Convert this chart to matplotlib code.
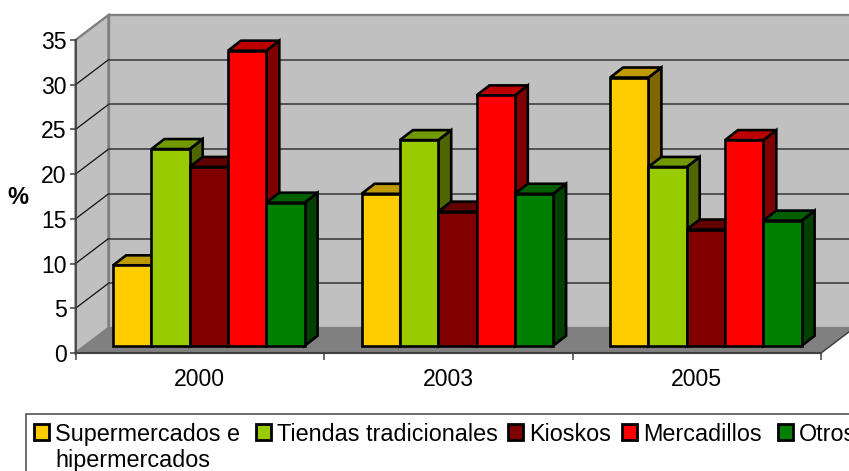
import matplotlib
matplotlib.use("Agg")
import numpy as np
import matplotlib.pyplot as plt
from matplotlib.patches import Polygon, Rectangle

plt.rcParams['font.family'] = ['Liberation Sans', 'DejaVu Sans']

# data
years = ["2000", "2003", "2005"]
names = ["Supermercados e\nhipermercados", "Tiendas tradicionales", "Kioskos", "Mercadillos", "Otros"]
supermercados = [9, 17, 30]
tiendas = [22, 23, 20]
kioskos = [20, 15, 13]
mercadillos = [33, 28, 23]
otros = [16, 17, 14]
series = [supermercados, tiendas, kioskos, mercadillos, otros]

# front, top, side colours per series
front = ["#FFCC00", "#99CC00", "#800000", "#FF0000", "#008000"]
top = ["#BF9900", "#739900", "#600000", "#BF0000", "#006000"]
side = ["#806600", "#4D6600", "#400000", "#800000", "#004000"]

W, H = 849, 471
fig = plt.figure(figsize=(W / 100, H / 100), dpi=100)

# axes = front plane of the 3D box
x0, x1, y0, y1 = 75.5, 821, 353, 40
ax = fig.add_axes([x0 / W, 1 - y0 / H, (x1 - x0) / W, (y0 - y1) / H])
ax.set_xlim(0, 3)
ax.set_ylim(0, 35)
ax.patch.set_visible(False)
for s in ax.spines.values():
    s.set_visible(False)

pxx = 3 / (x1 - x0)  # data units per pixel
pxy = 35 / (y0 - y1)
depth_x, depth_y = 33 * pxx, 25 * pxy


def poly(pts, fc, ec, lw, z):
    ax.add_patch(Polygon(pts, closed=True, fc=fc, ec=ec, lw=lw, zorder=z, clip_on=False, joinstyle="miter"))


# walls and floor
poly([(0, 0), (depth_x, depth_y), (depth_x, 35 + depth_y), (0, 35)], "#C0C0C0", "#808080", 1.7, 1)
poly([(depth_x, depth_y), (3 + depth_x, depth_y), (3 + depth_x, 35 + depth_y), (depth_x, 35 + depth_y)], "#C0C0C0", "#808080", 1.7, 1)
poly([(0, 0), (3, 0), (3 + depth_x, depth_y), (depth_x, depth_y)], "#808080", "#808080", 1.0, 2)

# gridlines on both walls
for v in range(5, 35, 5):
    ax.plot([0, depth_x], [v, v + depth_y], color="#111111", lw=0.9, zorder=3, clip_on=False)
    ax.plot([depth_x, 3 + depth_x], [v + depth_y, v + depth_y], color="#404040", lw=1.2, zorder=3, clip_on=False)
ax.plot([0, 0], [0, 35], color="#404040", lw=1.2, zorder=3, clip_on=False)
ax.plot([0, 3], [0, 0], color="#404040", lw=1.5, zorder=3, clip_on=False)
ax.plot([3, 3 + depth_x], [0, depth_y], color="#404040", lw=1.0, zorder=3, clip_on=False)

# bars
bar_w = 38.3 * pxx
bar_dx, bar_dy = 13 * pxx, 10 * pxy
start = 37.6 * pxx
base = 7.2 * pxy
edge = 1.9
for g in range(len(years)):
    for i, vals in enumerate(series):
        left = g + start + i * bar_w
        right = left + bar_w
        h = base + vals[g]
        z = 10 + g * 10 + i
        poly([(right, base), (right + bar_dx, base + bar_dy), (right + bar_dx, h + bar_dy), (right, h)], side[i], "black", edge, z)
        poly([(left, h), (right, h), (right + bar_dx, h + bar_dy), (left + bar_dx, h + bar_dy)], top[i], "black", edge, z)
        poly([(left, base), (right, base), (right, h), (left, h)], front[i], "black", edge, z + 0.5)

# ticks
ax.set_yticks(range(0, 40, 5))
ax.tick_params(axis="y", length=4, width=1.1, color="#404040", labelsize=16.6, pad=2.5)
ax.set_xticks([0, 1, 2, 3])
ax.set_xticklabels([])
ax.tick_params(axis="x", length=5, width=1.1, color="#404040")
ax.set_xticks([0.5, 1.5, 2.5], minor=True)
ax.set_xticklabels(years, minor=True, fontsize=16.6)
ax.tick_params(axis="x", which="minor", length=0, pad=11)

fig.text(18 / W, 1 - 198 / H, "%", fontsize=17, fontweight="bold", ha="center", va="center")

# legend, runs off the right and bottom edge of the image like the source
fig.add_artist(Rectangle((26 / W, 1 - 500 / H), 900 / W, 86 / H, transform=fig.transFigure, fc="white", ec="#555555", lw=1.2))
squares = [34, 256, 508, 622, 778]
for sx, name, c in zip(squares, names, front):
    fig.add_artist(Rectangle((sx / W, 1 - 440 / H), 15 / W, 16 / H, transform=fig.transFigure, fc=c, ec="black", lw=2.0))
    fig.text((sx + 21) / W, 1 - 432 / H, name.split("\n")[0], fontsize=16.8, va="center_baseline", ha="left")
fig.text(55 / W, 1 - 458 / H, names[0].split("\n")[1], fontsize=16.8, va="center_baseline", ha="left")

fig.savefig("out.png", dpi=100)
